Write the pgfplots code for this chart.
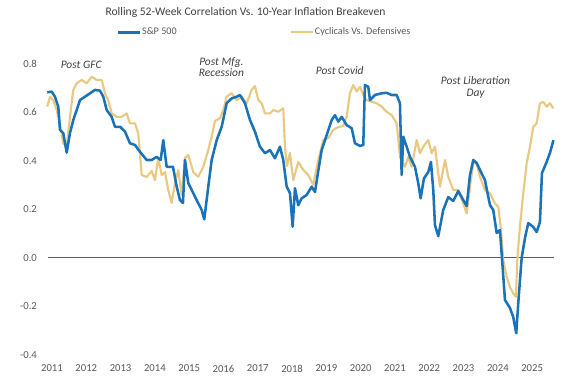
\documentclass[border=0pt]{standalone}
\usepackage{fontspec}
\setmainfont{Carlito}
\usepackage{pgfplots}
\usepackage{pgfplotstable}
\pgfplotsset{compat=1.18}
\definecolor{spblue}{HTML}{1A73B8}
\definecolor{cycgold}{HTML}{E9C882}
\definecolor{txtgray}{HTML}{595959}
\definecolor{anngray}{HTML}{404040}
\pgfplotstableread{
yr v
2010.863 0.682
2010.991 0.685
2011.087 0.664
2011.184 0.623
2011.233 0.527
2011.329 0.514
2011.429 0.433
2011.525 0.514
2011.621 0.568
2011.720 0.609
2011.816 0.650
2011.962 0.664
2012.108 0.678
2012.254 0.692
2012.399 0.689
2012.496 0.664
2012.595 0.609
2012.741 0.581
2012.837 0.540
2012.983 0.540
2013.128 0.520
2013.274 0.472
2013.420 0.465
2013.566 0.437
2013.761 0.403
2013.907 0.403
2014.052 0.416
2014.169 0.403
2014.245 0.485
2014.344 0.375
2014.528 0.375
2014.636 0.293
2014.732 0.238
2014.819 0.226
2014.878 0.403
2014.974 0.308
2015.169 0.252
2015.364 0.197
2015.440 0.158
2015.557 0.293
2015.656 0.403
2015.802 0.485
2015.948 0.540
2016.093 0.637
2016.239 0.657
2016.385 0.664
2016.481 0.671
2016.627 0.637
2016.773 0.568
2016.918 0.520
2017.064 0.458
2017.210 0.431
2017.356 0.444
2017.501 0.410
2017.647 0.458
2017.743 0.403
2017.843 0.293
2017.939 0.266
2018.017 0.128
2018.085 0.287
2018.181 0.217
2018.280 0.245
2018.426 0.259
2018.571 0.293
2018.668 0.271
2018.764 0.358
2018.863 0.444
2019.009 0.506
2019.155 0.568
2019.251 0.588
2019.347 0.561
2019.446 0.581
2019.592 0.547
2019.738 0.534
2019.834 0.472
2019.980 0.461
2020.076 0.465
2020.125 0.712
2020.222 0.705
2020.271 0.650
2020.417 0.671
2020.612 0.678
2020.758 0.680
2020.904 0.671
2021.050 0.671
2021.146 0.637
2021.195 0.341
2021.242 0.499
2021.341 0.458
2021.437 0.416
2021.583 0.375
2021.679 0.307
2021.749 0.245
2021.845 0.327
2021.971 0.353
2022.050 0.395
2022.117 0.279
2022.166 0.135
2022.263 0.089
2022.408 0.197
2022.554 0.250
2022.700 0.234
2022.845 0.275
2022.991 0.238
2023.090 0.213
2023.187 0.341
2023.283 0.403
2023.382 0.391
2023.478 0.362
2023.624 0.320
2023.770 0.217
2023.866 0.197
2023.965 0.102
2024.061 0.114
2024.120 -0.001
2024.207 -0.174
2024.353 -0.207
2024.449 -0.245
2024.536 -0.311
2024.595 -0.187
2024.694 -0.001
2024.790 0.081
2024.886 0.143
2025.032 0.127
2025.131 0.106
2025.227 0.147
2025.286 0.349
2025.423 0.395
2025.519 0.432
2025.621 0.485
}\spx
\pgfplotstableread{
yr v
2010.863 0.623
2010.942 0.664
2011.038 0.650
2011.137 0.609
2011.233 0.554
2011.329 0.472
2011.429 0.458
2011.525 0.581
2011.621 0.692
2011.720 0.719
2011.866 0.733
2012.012 0.719
2012.157 0.746
2012.303 0.733
2012.449 0.733
2012.545 0.678
2012.641 0.650
2012.741 0.595
2012.886 0.581
2013.032 0.581
2013.178 0.595
2013.274 0.554
2013.420 0.554
2013.516 0.513
2013.615 0.341
2013.761 0.333
2013.907 0.358
2014.003 0.320
2014.099 0.411
2014.198 0.341
2014.294 0.353
2014.391 0.279
2014.490 0.226
2014.586 0.308
2014.682 0.362
2014.781 0.259
2014.878 0.411
2014.974 0.424
2015.120 0.353
2015.265 0.334
2015.411 0.374
2015.557 0.444
2015.656 0.498
2015.752 0.564
2015.898 0.575
2015.994 0.609
2016.093 0.664
2016.239 0.678
2016.385 0.650
2016.531 0.664
2016.676 0.637
2016.822 0.692
2016.918 0.708
2017.015 0.650
2017.114 0.637
2017.210 0.595
2017.356 0.595
2017.452 0.609
2017.598 0.602
2017.743 0.616
2017.793 0.458
2017.851 0.378
2017.939 0.432
2018.035 0.320
2018.181 0.395
2018.327 0.362
2018.472 0.341
2018.618 0.300
2018.764 0.403
2018.910 0.485
2019.055 0.494
2019.201 0.527
2019.347 0.539
2019.493 0.543
2019.592 0.581
2019.688 0.678
2019.784 0.712
2019.883 0.685
2019.980 0.705
2020.076 0.671
2020.175 0.650
2020.321 0.643
2020.466 0.637
2020.612 0.623
2020.758 0.602
2020.904 0.588
2021.050 0.554
2021.146 0.416
2021.292 0.375
2021.388 0.416
2021.487 0.375
2021.633 0.485
2021.729 0.431
2021.825 0.458
2021.971 0.485
2022.070 0.431
2022.166 0.458
2022.312 0.293
2022.458 0.403
2022.554 0.334
2022.700 0.279
2022.845 0.279
2022.991 0.224
2023.090 0.183
2023.187 0.293
2023.283 0.389
2023.382 0.389
2023.478 0.334
2023.624 0.279
2023.770 0.266
2023.915 0.224
2024.012 0.210
2024.082 0.128
2024.157 -0.009
2024.256 -0.078
2024.353 -0.120
2024.449 -0.147
2024.528 -0.161
2024.566 -0.009
2024.644 0.128
2024.741 0.266
2024.840 0.389
2024.936 0.458
2025.032 0.540
2025.131 0.554
2025.227 0.637
2025.324 0.643
2025.423 0.623
2025.519 0.637
2025.615 0.616
}\cyc
\begin{document}
\begin{tikzpicture}
\begin{axis}[
  scale only axis,
  width=384.6pt, height=225.6pt,
  xmin=2010.8, xmax=2025.75,
  ymin=-0.42, ymax=0.82,
  clip=false,
  axis line style={draw=none},
  major tick length=0pt,
  xtick={2011,2012,2013,2014,2015,2016,2017,2018,2019,2020,2021,2022,2023,2024,2025},
  xticklabels={2011,2012,2013,2014,2015,2016,2017,2018,2019,2020,2021,2022,2023,2024,2025},
  ytick={-0.4,-0.2,0,0.2,0.4,0.6,0.8},
  yticklabels={-0.4,-0.2,0.0,0.2,0.4,0.6,0.8},
  tick label style={font=\fontsize{8}{9}\selectfont, text=txtgray, inner sep=0pt},
  xticklabel style={anchor=north, yshift=-3.8pt},
  yticklabel style={anchor=east, xshift=-6pt},
  legend columns=2,
  reverse legend,
  legend style={at={(0.1396,1.0883)}, anchor=west, draw=none, fill=none,
    inner sep=0pt, column sep=0pt,
    nodes={inner sep=1pt, anchor=west, text=txtgray, font=\fontsize{7.6}{9}\selectfont}},
  legend image code/.code={\draw[#1] (0pt,0pt) -- (16pt,0pt);},
]
\addplot[anngray!85!white, line width=1.1pt, forget plot] coordinates {(2010.88,0) (2025.64,0)};
\addplot[cycgold, line width=1.6pt, line join=round] table[x=yr, y=v] {\cyc};
\addlegendentry{Cyclicals Vs. Defensives}
\addplot[spblue, line width=1.9pt, line join=round] table[x=yr, y=v] {\spx};
\addlegendentry{\makebox[110pt][l]{S\&P 500}}
\node[font=\fontsize{8.7}{10}\selectfont, text=anngray] at (rel axis cs:0.3908,1.1558) {Rolling 52-Week Correlation Vs. 10-Year Inflation Breakeven};
\node[font=\itshape\fontsize{8.6}{10}\selectfont, text=anngray] at (axis cs:2011.85,0.797) {Post GFC};
\node[font=\itshape\fontsize{8.6}{10}\selectfont, text=anngray, align=center, inner sep=0pt] at (axis cs:2015.94,0.787) {Post Mfg.\\[-1.5pt]Recession};
\node[font=\itshape\fontsize{8.6}{10}\selectfont, text=anngray] at (axis cs:2019.39,0.773) {Post Covid};
\node[font=\itshape\fontsize{8.6}{10}\selectfont, text=anngray, align=center, inner sep=0pt] at (axis cs:2023.35,0.702) {Post Liberation\\[-1.5pt]Day};
\coordinate (bbl) at (rel axis cs:-0.0880,-0.0811);
\coordinate (btr) at (rel axis cs:1.0334,1.1957);
\end{axis}
\pgfresetboundingbox
\path[use as bounding box] (bbl) rectangle (btr);
\end{tikzpicture}
\end{document}
